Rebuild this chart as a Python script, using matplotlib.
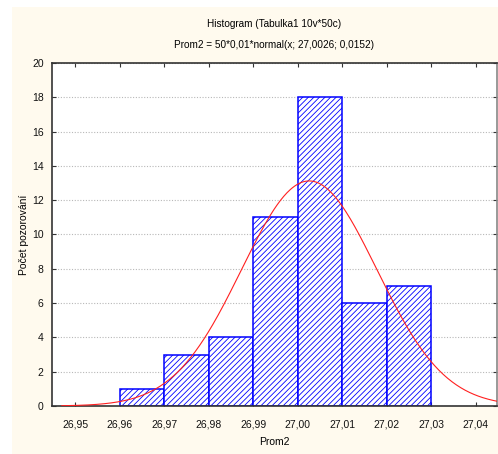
import numpy as np
import matplotlib
matplotlib.use("Agg")
import matplotlib.pyplot as plt
from matplotlib.patches import Rectangle
from matplotlib.ticker import FuncFormatter

# Histogram of Prom2 (bin edges and counts)
bin_edges = [26.96, 26.97, 26.98, 26.99, 27.00, 27.01, 27.02, 27.03]
counts = [1, 3, 4, 11, 18, 6, 7]

# Fitted normal curve parameters
n_obs = 50
bin_width = 0.01
mu = 27.0026
sigma = 0.0152

x_ticks = [26.95, 26.96, 26.97, 26.98, 26.99, 27.00, 27.01, 27.02, 27.03, 27.04]
y_ticks = [0, 2, 4, 6, 8, 10, 12, 14, 16, 18, 20]

plt.rcParams['font.family'] = ['Liberation Sans', 'DejaVu Sans']
plt.rcParams['hatch.linewidth'] = 0.6
plt.rcParams['hatch.color'] = '#3a3aff'

W, H = 498, 454
fig = plt.figure(figsize=(W / 100, H / 100), dpi=100)
fig.patch.set_facecolor('white')
# cream panel behind the chart
bg = Rectangle((12 / W, 0), 1 - 12 / W, 1 - 7 / H, transform=fig.transFigure,
               facecolor='#fffaee', edgecolor='none', zorder=-10)
fig.add_artist(bg)

ax = fig.add_axes([52 / W, 1 - 406 / H, 445 / W, 343 / H])
ax.set_zorder(5)
ax.set_facecolor('white')

lefts = np.array(bin_edges[:-1])
widths = np.diff(bin_edges)
ax.bar(lefts, counts, width=widths, align='edge', facecolor='white',
       edgecolor='#0000ff', linewidth=1.1, hatch='//////', zorder=2)

xs = np.linspace(26.947, 27.045, 400)
ys = n_obs * bin_width * np.exp(-0.5 * ((xs - mu) / sigma) ** 2) / (sigma * np.sqrt(2 * np.pi))
ax.plot(xs, ys, color='#ff2020', linewidth=0.8, zorder=3)

ax.set_xlim(26.9448, 27.0448)
ax.set_ylim(0, 20)
ax.set_xticks(x_ticks)
ax.set_yticks(y_ticks)
ax.xaxis.set_major_formatter(FuncFormatter(lambda v, p: f"{v:.2f}".replace('.', ',')))
ax.yaxis.set_major_formatter(FuncFormatter(lambda v, p: f"{v:.0f}"))

ax.yaxis.grid(True, linestyle=(0, (1, 1.5)), color='#b8b8b8', linewidth=0.8)
ax.set_axisbelow(True)

ax.tick_params(axis='both', direction='in', length=3, width=0.8, color='#333333',
               labelsize=7.5, labelcolor='#111111')
ax.tick_params(axis='x', top=True, pad=10)
ax.tick_params(axis='y', right=True, pad=6)

for side in ['left', 'bottom', 'top']:
    ax.spines[side].set_color('#333333')
    ax.spines[side].set_linewidth(1.2)
ax.spines['right'].set_color('#888888')
ax.spines['right'].set_linewidth(1.2)

ax.set_xlabel('Prom2', fontsize=7.5, labelpad=5)
ax.set_ylabel('Počet pozorování', fontsize=7.5, labelpad=2)

fig.text(274 / W, 1 - 24 / H, 'Histogram (Tabulka1 10v*50c)', ha='center', va='center', fontsize=7.2)
fig.text(274 / W, 1 - 45 / H, 'Prom2 = 50*0,01*normal(x; 27,0026; 0,0152)', ha='center', va='center', fontsize=7.2)

fig.savefig('out.png', dpi=100, facecolor=fig.get_facecolor())
